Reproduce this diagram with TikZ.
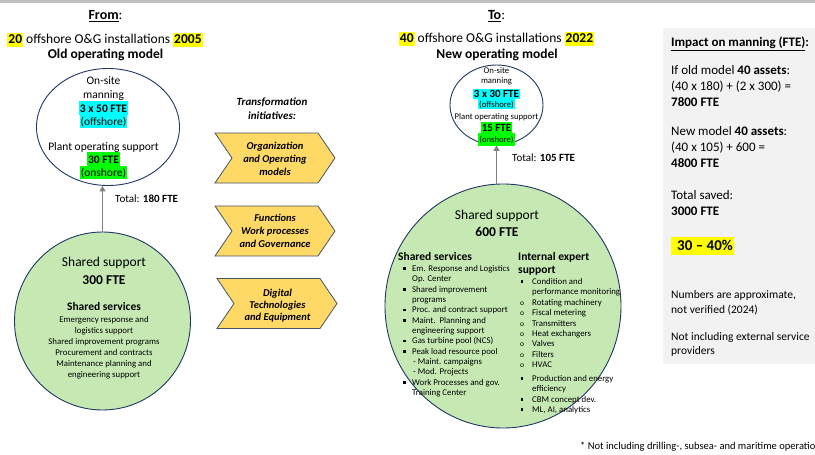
\documentclass[tikz,border=0pt]{standalone}
\usepackage{fontspec}
\setmainfont{Carlito}
\usetikzlibrary{arrows.meta,shapes.geometric}

\definecolor{hlyellow}{HTML}{FFFF00}
\definecolor{hlcyan}{HTML}{00FFFF}
\definecolor{hlgreen}{HTML}{00FF00}
\definecolor{ringblue}{HTML}{1F3864}
\definecolor{poolgreen}{HTML}{C6E9B4}
\definecolor{chevfill}{HTML}{FFD966}
\definecolor{chevline}{HTML}{44546A}
\definecolor{panelgray}{HTML}{F2F2F2}
\definecolor{topbar}{HTML}{BFBFBF}
\definecolor{linkgray}{HTML}{808080}

% font size / baseline skip in pt
\newcommand\fsz[2]{\fontsize{#1pt}{#2pt}\selectfont}
% highlighted text: colour, height above baseline, depth below baseline, text
\newcommand\hlbox[4]{{\setlength{\fboxsep}{0pt}\colorbox{#1}{\rule[-#3pt]{0pt}{\dimexpr#2pt+#3pt\relax}\kern1pt#4\kern1pt}}}
% list bullets
\newcommand\sqb{\makebox[9pt][l]{\raisebox{1.6pt}{\rule{2.6pt}{2.6pt}}}}
\newcommand\sqbw{\makebox[12pt][l]{\kern0.5pt\raisebox{1.6pt}{\rule{2.6pt}{2.6pt}}}}
\newcommand\ringb{\makebox[12pt][l]{\fsz{7.5}{8}o}}

\begin{document}
\begin{tikzpicture}[x=1pt,y=-1pt,
  t/.style={inner sep=0pt, anchor=base},
  tl/.style={inner sep=0pt, anchor=base west},
  ring/.style={ellipse, draw=ringblue, line width=0.9pt, inner sep=0pt},
  chev/.style={draw=chevline, line width=0.8pt, fill=chevfill, line join=miter},
  chevtxt/.style={t, font=\fsz{10.5}{13}\bfseries\itshape},
  link/.style={draw=linkgray, line width=1.8pt, -{Triangle[width=6pt,length=5.5pt]}}]

\useasboundingbox (0,0) rectangle (815,455);
\clip (0,0) rectangle (815,455);
\fill[white] (0,0) rectangle (815,455);
\fill[topbar] (0,0) rectangle (815,3);

% ---------- headers ----------
\node[t, font=\fsz{14}{16}\bfseries] (fromhd) at (105.5,19.5) {\underline{From}\mdseries:};
\node[t, font=\fsz{14}{16}\bfseries] (tohd) at (496.5,19.5) {\underline{To}\mdseries:};

\node[t, font=\fsz{13.5}{16}] (oldcount) at (105,43) {\hlbox{hlyellow}{10}{4}{\textbf{20}} offshore O\&G installations \hlbox{hlyellow}{10}{4}{\textbf{2005}}};
\node[t, font=\fsz{13.5}{16}\bfseries] (oldmodel) at (105.5,58.5) {Old operating model};
\node[t, font=\fsz{13.5}{16}] (newcount) at (496.5,42) {\hlbox{hlyellow}{10}{4}{\textbf{40}} offshore O\&G installations \hlbox{hlyellow}{10}{4}{\textbf{2022}}};
\node[t, font=\fsz{13.5}{16}\bfseries] (newmodel) at (497,58) {New operating model};

% ---------- old model ----------
\node[ring, fill=white, minimum width=143pt, minimum height=117pt] (oldsite) at (108,127) {};
\node[ring, fill=poolgreen, minimum width=176pt, minimum height=178pt] (oldpool) at (102.5,321) {};
\draw[link] (oldpool.north) -- (oldpool.north |- oldsite.south);

\begin{scope}[every node/.style={t, font=\fsz{11.5}{14}}]
  \node (os1) at (103.5,84) {On-site};
  \node (os2) at (103.5,98) {manning};
  \node (os3) at (103.5,112) {\hlbox{hlcyan}{11}{3}{\textbf{3 x 50 FTE}}};
  \node (os4) at (103.5,125) {\hlbox{hlcyan}{10}{2.5}{(offshore)}};
  \node (os5) at (103.5,150) {Plant operating support};
  \node (os6) at (103.5,163) {\hlbox{hlgreen}{11}{3}{\textbf{30 FTE}}};
  \node (os7) at (103.5,176) {\hlbox{hlgreen}{10}{3}{(onshore)}};
\end{scope}
\node[tl, font=\fsz{11}{13}] (oldtotal) at (115,202.5) {Total: \textbf{180 FTE}};

\node[t, font=\fsz{13.5}{16}] (op1) at (104,266.5) {Shared support};
\node[t, font=\fsz{13.5}{16}\bfseries] (op2) at (104,284) {300 FTE};
\node[t, font=\fsz{11.5}{14}\bfseries] (op3) at (104,310) {Shared services};
\node[t, font=\fsz{8.8}{11}] (op4) at (104,322) {\begin{tabular}[t]{@{}c@{}}
Emergency response and\\
logistics support\\
Shared improvement programs\\
Procurement and contracts\\
Maintenance planning and\\
engineering support
\end{tabular}};

% ---------- transformation initiatives ----------
\node[t, font=\fsz{11}{13.5}\bfseries\itshape] (ti) at (272,105.5) {\begin{tabular}[t]{@{}c@{}}Transformation\\ initiatives:\end{tabular}};

\draw[chev, shift={(275,158)}] (-60,-25) -- (43,-25) -- (60,0) -- (43,25) -- (-60,25) -- (-43,0) -- cycle;
\draw[chev, shift={(275,231)}] (-60,-25) -- (43,-25) -- (60,0) -- (43,25) -- (-60,25) -- (-43,0) -- cycle;
\draw[chev, shift={(277,303.5)}] (-60,-25) -- (43,-25) -- (60,0) -- (43,25) -- (-60,25) -- (-43,0) -- cycle;

\node[chevtxt] (ch1) at (275,149.2) {\begin{tabular}[t]{@{}c@{}}Organization\\ and Operating\\ models\end{tabular}};
\node[chevtxt] (ch2) at (275,221.5) {\begin{tabular}[t]{@{}c@{}}Functions\\ Work processes\\ and Governance\end{tabular}};
\node[chevtxt, font=\fsz{10.5}{12}\bfseries\itshape] (ch3) at (277.5,296.5) {\begin{tabular}[t]{@{}c@{}}Digital\\ Technologies\\ and Equipment\end{tabular}};

% ---------- new model ----------
\node[ring, fill=white, minimum width=93pt, minimum height=80pt] (newsite) at (496.5,105) {};
\node[ring, fill=poolgreen, minimum width=236pt, minimum height=244pt] (newpool) at (503,306) {};
\draw[link] (newpool.north -| newsite.south) -- (newsite.south);

\node[t, font=\fsz{8.7}{10}] (ns1) at (496.5,73.5) {On-site};
\node[t, font=\fsz{8.7}{10}] (ns2) at (496.5,83) {manning};
\node[t, font=\fsz{11}{12}\bfseries] (ns3) at (496.5,97) {\hlbox{hlcyan}{8}{2}{3 x 30 FTE}};
\node[t, font=\fsz{8.7}{10}] (ns4) at (496.5,107) {\hlbox{hlcyan}{8}{2}{(offshore)}};
\node[t, font=\fsz{8.7}{10}] (ns5) at (496.5,119.5) {Plant operating support};
\node[t, font=\fsz{11}{12}\bfseries] (ns6) at (496.5,131) {\hlbox{hlgreen}{9}{2}{15 FTE}};
\node[t, font=\fsz{8.7}{10}] (ns7) at (496.5,142) {\hlbox{hlgreen}{9}{3.5}{(onshore)}};
\node[tl, font=\fsz{11}{13}] (newtotal) at (512,161) {Total: \textbf{105 FTE}};

\node[t, font=\fsz{13.5}{16}] (np1) at (497,219) {Shared support};
\node[t, font=\fsz{13.5}{16}\bfseries] (np2) at (497,236) {600 FTE};

\node[tl, font=\fsz{11.5}{14}\bfseries] (svchd) at (398,260.5) {Shared services};
\node[tl, font=\fsz{8.8}{10.33}] (svcl) at (403,271.6) {\begin{tabular}[t]{@{}l@{}}
\sqb Em. Response and Logistics\\
\hspace*{9pt}Op. Center\\
\sqb Shared improvement\\
\hspace*{9pt}programs\\
\sqb Proc. and contract support\\
\sqb Maint.\ \ Planning and\\
\hspace*{9pt}engineering support\\
\sqb Gas turbine pool (NCS)\\
\sqb Peak load resource pool\\
\hspace*{10pt}- Maint. campaigns\\
\hspace*{10pt}- Mod. Projects\\
\sqb Work Processes and gov.\\
\hspace*{9pt}Training Center
\end{tabular}};

\node[tl, font=\fsz{11.5}{12.5}\bfseries] (exphd) at (518,260.5) {\begin{tabular}[t]{@{}l@{}}Internal expert\\ support\end{tabular}};
\node[tl, font=\fsz{8.8}{10.35}] (expl) at (520,284.6) {\begin{tabular}[t]{@{}l@{}}
\sqbw Condition and\\
\hspace*{12pt}performance monitoring\\
\ringb Rotating machinery\\
\ringb Fiscal metering\\
\ringb Transmitters\\
\ringb Heat exchangers\\
\ringb Valves\\
\ringb Filters\\
\ringb HVAC\\[3.8pt]
\sqbw Production and energy\\
\hspace*{12pt}efficiency\\
\sqbw CBM concept dev.\\
\sqbw ML, AI, analytics
\end{tabular}};

% ---------- impact panel ----------
\fill[panelgray] (663,28) rectangle (815,364);
\node[tl, font=\fsz{13}{16}\bfseries] (imphd) at (671,46.5) {\underline{Impact on manning (FTE)}:};
\node[tl, font=\fsz{13}{16}] (impa) at (671,74.5) {\begin{tabular}[t]{@{}l@{}}If old model \textbf{40 assets}:\\ (40 x 180) + (2 x 300) =\\ \textbf{7800 FTE}\end{tabular}};
\node[tl, font=\fsz{13}{16}] (impb) at (671,135.5) {\begin{tabular}[t]{@{}l@{}}New model \textbf{40 assets}:\\ (40 x 105) + 600 =\\ \textbf{4800 FTE}\end{tabular}};
\node[tl, font=\fsz{13}{16}] (impc) at (671,199.5) {\begin{tabular}[t]{@{}l@{}}Total saved:\\ \textbf{3000 FTE}\end{tabular}};
\node[tl, font=\fsz{15}{18}\bfseries] (impd) at (671,250.5) {\hlbox{hlyellow}{13.5}{4.5}{\kern5pt 30 – 40\%}};
\node[tl, font=\fsz{11.5}{15}] (impe) at (671,298.5) {\begin{tabular}[t]{@{}l@{}}Numbers are approximate,\\ not verified (2024)\end{tabular}};
\node[tl, font=\fsz{11.5}{14}] (impf) at (671,340.5) {\begin{tabular}[t]{@{}l@{}}Not including external service\\ providers\end{tabular}};

% ---------- footnote ----------
\node[tl, font=\fsz{10.5}{12}] (foot) at (580,449) {* Not including drilling-, subsea- and maritime operations};

\end{tikzpicture}
\end{document}
